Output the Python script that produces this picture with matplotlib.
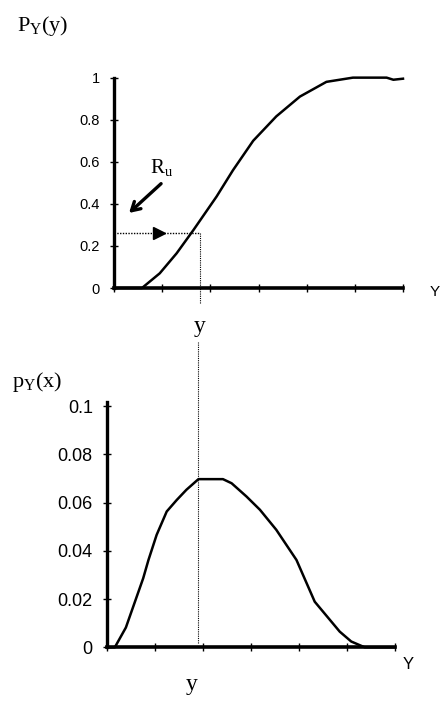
import matplotlib
matplotlib.use("Agg")
import matplotlib.pyplot as plt

plt.rcParams.update({
    "font.family": "Liberation Sans",
    "mathtext.fontset": "custom",
    "mathtext.rm": "Liberation Serif",
    "mathtext.it": "Liberation Serif",
})

# ── data (x in tick units 0..6) ──
cdf_x = [0, 0.58, 0.95, 1.3, 1.65, 2.13, 2.47, 2.89, 3.37, 3.86, 4.41, 4.96, 5.66, 5.8, 6.0]
cdf_y = [0, 0, 0.07, 0.165, 0.276, 0.435, 0.56, 0.70, 0.816, 0.91, 0.98, 1.0, 1.0, 0.99, 0.995]

pdf_x = [0, 0.17, 0.40, 0.76, 0.87, 1.04, 1.25, 1.46, 1.66, 1.91, 2.42, 2.60, 2.91,
         3.19, 3.53, 3.95, 4.33, 4.85, 5.09, 5.37, 6.0]
pdf_y = [0, 0, 0.0082, 0.0286, 0.0362, 0.0466, 0.0563, 0.0611, 0.0653, 0.0697, 0.0697,
         0.068, 0.0625, 0.057, 0.0487, 0.0362, 0.0189, 0.0065, 0.0024, 0, 0]

x_ticks = [0, 1, 2, 3, 4, 5, 6]
cdf_ticks = [0, 0.2, 0.4, 0.6, 0.8, 1]
cdf_ticklabels = ["0", "0.2", "0.4", "0.6", "0.8", "1"]
pdf_ticks = [0, 0.02, 0.04, 0.06, 0.08, 0.1]
pdf_ticklabels = ["0", "0.02", "0.04", "0.06", "0.08", "0.1"]

r_u = 0.26          # random uniform draw
y_top = 1.78        # sampled y, in top axes units
y_bot = 1.90        # same y in bottom axes units


def style(ax, ticks, labels, ymax, fs):
    ax.set_xlim(0, 6)
    ax.set_ylim(0, ymax)
    for s in ("top", "right"):
        ax.spines[s].set_visible(False)
    ax.spines["left"].set_linewidth(2.4)
    ax.spines["bottom"].set_linewidth(2.6)
    ax.set_xticks(x_ticks)
    ax.set_xticklabels([])
    ax.set_yticks(ticks)
    ax.set_yticklabels(labels)
    ax.tick_params(direction="inout", length=6, width=1, labelsize=fs, pad=7)
    ax.patch.set_visible(False)


fig = plt.figure(figsize=(4.4, 7.02), dpi=100)

# ── top: cumulative distribution ──
ax1 = fig.add_axes([0.2591, 0.5897, 0.6568, 0.2997])
style(ax1, cdf_ticks, cdf_ticklabels, 1, 10.5)
ax1.plot(cdf_x, cdf_y, color="black", lw=1.8, clip_on=False)
ax1.plot([0, y_top], [r_u, r_u], color="black", lw=1, ls=(0, (1, 1)))
ax1.plot([0.93], [r_u], marker=">", color="black", ms=9)
ax1.plot([y_top, y_top], [r_u, -0.071], color="black", lw=0.8, ls=(0, (1, 1)), clip_on=False)
ax1.annotate("", xy=(0.27, 0.348), xytext=(1.02, 0.505),
             arrowprops=dict(arrowstyle="->,head_length=0.6,head_width=0.35", color="black", lw=2.4))
ax1.text(0.74, 0.548, r"$\mathrm{R_u}$", fontsize=15, ha="left", va="baseline")
ax1.text(-0.335, 1.22, r"$\mathrm{P_Y(y)}$", fontsize=16, transform=ax1.transAxes, ha="left")
ax1.text(1.11, -0.02, "Y", fontsize=11, transform=ax1.transAxes, ha="center", va="center")
ax1.text(y_top / 6, -0.19, r"$\mathrm{y}$", fontsize=17, transform=ax1.transAxes,
         ha="center", va="center")

# ── bottom: density ──
ax2 = fig.add_axes([0.2424, 0.0779, 0.6553, 0.3437])
style(ax2, pdf_ticks, pdf_ticklabels, 0.1, 13)
ax2.spines["left"].set_bounds(0, 0.1017)
ax2.plot(pdf_x, pdf_y, color="black", lw=1.8, clip_on=False)
ax2.plot([y_bot, y_bot], [0.0018, 0.1267], color="black", lw=0.8, ls=(0, (1, 1)), clip_on=False)
ax2.text(-0.33, 1.08, r"$\mathrm{p_Y(x)}$", fontsize=16, transform=ax2.transAxes, ha="left")
ax2.text(1.045, -0.07, "Y", fontsize=12, transform=ax2.transAxes, ha="center", va="center")
ax2.text(y_bot / 6 - 0.02, -0.16, r"$\mathrm{y}$", fontsize=17, transform=ax2.transAxes,
         ha="center", va="center")

fig.savefig("out.png", dpi=100)
